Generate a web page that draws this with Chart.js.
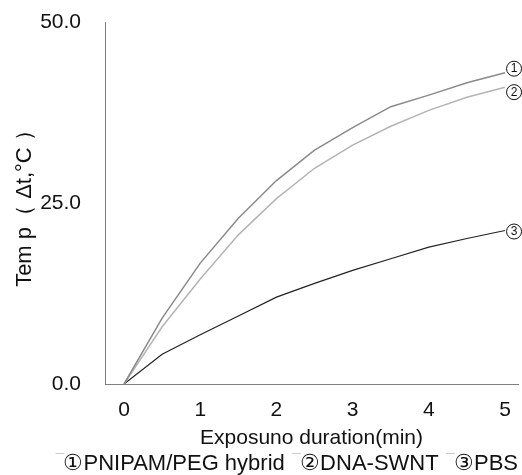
<!DOCTYPE html>
<html>
<head>
<meta charset="utf-8">
<script src="https://cdn.jsdelivr.net/npm/chart.js@4"></script>
<style>
    body { margin: 0; background: #fff; }
    #wrap { width: 522px; height: 475px; position: relative; }
</style>
</head>
<body>
<div id="wrap"><canvas id="graficoTemp"></canvas></div>
<script>
// datos
const tiempos = [0, 0.5, 1, 1.5, 2, 2.5, 3, 3.5, 4, 4.5, 5];
const pnipamPeg = [0, 9.1, 16.7, 22.9, 28.1, 32.3, 35.4, 38.3, 39.9, 41.6, 43.0];
const dnaSwnt = [0, 7.9, 14.5, 20.6, 25.6, 29.8, 33.0, 35.6, 37.8, 39.6, 41.0];
const pbs = [0, 4.1, 6.8, 9.4, 12.0, 13.9, 15.7, 17.3, 18.9, 20.1, 21.2];
const etiquetasSerie = ['‾①PNIPAM/PEG hybrid', '‾②DNA-SWNT', '‾③PBS'];
const marcasFin = ['1', '2', '3'];
const ticksX = [0, 1, 2, 3, 4, 5];
const ticksY = [0, 25, 50];

const fuente = "'Liberation Sans', Arial, sans-serif";
Chart.defaults.font.family = fuente;
Chart.defaults.color = '#111';

function puntos(valores) {
    return tiempos.map((t, i) => ({ x: t, y: valores[i] }));
}

function sinRelleno(s) {
    s.paddingTop = 0;
    s.paddingBottom = 0;
    s.paddingLeft = 0;
    s.paddingRight = 0;
}

// circulitos numerados al final de cada curva
const marcasPlugin = {
    id: 'marcas',
    afterLayout(chart) {
        // la leyenda va un poco más abajo que donde la deja Chart.js
        if (chart.legend) {
            chart.legend.top += 10;
            chart.legend.bottom += 10;
        }
    },
    afterDatasetsDraw(chart) {
        const ctx = chart.ctx;
        const desplaz = [-4, 5, 1];
        chart.data.datasets.forEach((ds, i) => {
            const meta = chart.getDatasetMeta(i);
            const ult = meta.data[meta.data.length - 1];
            const cx = ult.x + 9;
            const cy = ult.y + desplaz[i];
            ctx.save();
            ctx.beginPath();
            ctx.arc(cx, cy, 7.5, 0, Math.PI * 2);
            ctx.fillStyle = '#fff';
            ctx.fill();
            ctx.lineWidth = 1;
            ctx.strokeStyle = '#111';
            ctx.stroke();
            ctx.fillStyle = '#111';
            ctx.font = '12px ' + fuente;
            ctx.textAlign = 'center';
            ctx.textBaseline = 'middle';
            ctx.fillText(marcasFin[i], cx, cy + 0.5);
            ctx.restore();
        });
    }
};

new Chart(document.getElementById('graficoTemp'), {
    type: 'line',
    data: {
        datasets: [
            {
                label: etiquetasSerie[0],
                data: puntos(pnipamPeg),
                borderColor: '#8a8a8a',
                borderWidth: 1.5,
                pointRadius: 0
            },
            {
                label: etiquetasSerie[1],
                data: puntos(dnaSwnt),
                borderColor: '#b4b4b4',
                borderWidth: 1.5,
                pointRadius: 0
            },
            {
                label: etiquetasSerie[2],
                data: puntos(pbs),
                borderColor: '#222',
                borderWidth: 1.2,
                pointRadius: 0
            }
        ]
    },
    options: {
        responsive: true,
        maintainAspectRatio: false,
        animation: false,
        layout: { padding: { top: 22, right: 4, left: 0, bottom: 0 } },
        scales: {
            x: {
                type: 'linear',
                min: -0.25,
                max: 5.17,
                afterBuildTicks: s => { s.ticks = ticksX.map(v => ({ value: v })); },
                afterFit: s => { sinRelleno(s); s.height = 59; },
                grid: { display: false, drawTicks: false },
                border: { display: true, color: '#808080', width: 1 },
                ticks: { padding: 14, font: { size: 21 }, color: '#111' },
                title: {
                    display: true,
                    text: 'Exposuno duration(min)',
                    font: { size: 21 },
                    color: '#111',
                    padding: { top: 0, bottom: -8 }
                }
            },
            y: {
                min: 0,
                max: 50,
                afterBuildTicks: s => { s.ticks = ticksY.map(v => ({ value: v })); },
                afterFit: s => { sinRelleno(s); s.width = 105; },
                grid: { display: false, drawTicks: false },
                border: { display: true, color: '#808080', width: 1 },
                ticks: {
                    padding: 24,
                    font: { size: 21 },
                    color: '#111',
                    callback: v => v.toFixed(1)
                },
                title: {
                    display: true,
                    text: 'Tem p（ Δt,°C ）',
                    font: { size: 22 },
                    color: '#111',
                    padding: { top: 12, bottom: 0 }
                }
            }
        },
        plugins: {
            legend: {
                position: 'bottom',
                align: 'end',
                labels: {
                    boxWidth: -3,
                    boxHeight: 0,
                    padding: 0,
                    font: { size: 22 },
                    color: '#111',
                    // sin cajita, solo el texto
                    generateLabels: chart => Chart.defaults.plugins.legend.labels.generateLabels(chart).map(l => ({
                        ...l,
                        lineWidth: 0,
                        fillStyle: 'rgba(0,0,0,0)',
                        strokeStyle: 'rgba(0,0,0,0)'
                    }))
                }
            },
            tooltip: { enabled: false }
        }
    },
    plugins: [marcasPlugin]
});
</script>
</body>
</html>
